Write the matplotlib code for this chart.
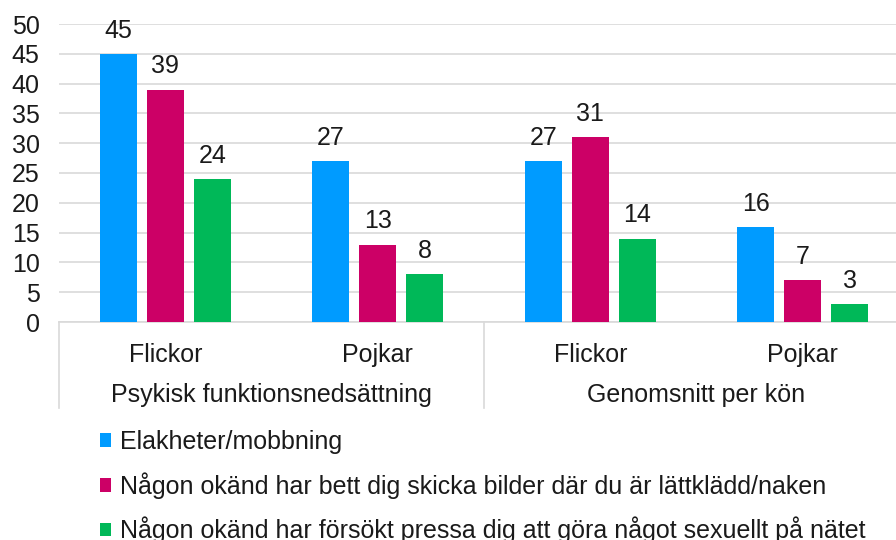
import matplotlib
matplotlib.use('Agg')
import matplotlib.pyplot as plt
from matplotlib.patches import Patch
import numpy as np

plt.rcParams['font.family'] = ['Liberation Sans', 'DejaVu Sans']

# data
categories = ['Flickor', 'Pojkar', 'Flickor', 'Pojkar']
groups = ['Psykisk funktionsnedsättning', 'Genomsnitt per kön']
series_names = ['Elakheter/mobbning',
                'Någon okänd har bett dig skicka bilder där du är lättklädd/naken',
                'Någon okänd har försökt pressa dig att göra något sexuellt på nätet']
mobbning = [45, 27, 27, 16]
bilder = [39, 13, 31, 7]
pressa = [24, 8, 14, 3]
colors = ['#009BFF', '#CC0066', '#00B858']
yticks = [0, 5, 10, 15, 20, 25, 30, 35, 40, 45, 50]

fig = plt.figure(figsize=(8.96, 5.4), dpi=100)
# plot area runs a bit past the right edge (cropped, as in the original)
ax = fig.add_axes([59 / 896, 1 - 322 / 540, 850 / 896, 298 / 540])

x = np.arange(len(categories))
step = 0.221
width = 0.174
for i, (vals, col) in enumerate(zip([mobbning, bilder, pressa], colors)):
    xs = x + (i - 1) * step
    ax.bar(xs, vals, width, color=col, zorder=3)
    for xv, v in zip(xs, vals):
        ax.annotate(str(v), (xv, v), xytext=(0, 8), textcoords='offset points',
                    ha='center', va='bottom', fontsize=18, color='#1a1a1a')

ax.set_xlim(-0.5, 3.5)
ax.set_ylim(0, 50)
ax.set_yticks(yticks)
ax.tick_params(axis='y', length=0, labelsize=18, pad=14, colors='#1a1a1a')
ax.set_xticks([])
ax.grid(axis='y', color='#D9D9D9', linewidth=1.2, zorder=0)
for s in ['left', 'right', 'top']:
    ax.spines[s].set_visible(False)
ax.spines['bottom'].set_color('#D9D9D9')
ax.spines['bottom'].set_linewidth(1.2)

# category labels and group separators
tr = ax.get_xaxis_transform()
for xv, lab in zip(x, categories):
    ax.text(xv, -0.112, lab, transform=tr, ha='center', va='center', fontsize=18, color='#1a1a1a')
for gi, g in enumerate(groups):
    ax.text(gi * 2 + 0.5, -0.245, g, transform=tr, ha='center', va='center', fontsize=18, color='#1a1a1a')
for sx in [-0.5, 1.5, 3.5]:
    ax.plot([sx, sx], [0, -0.289], transform=tr, color='#D9D9D9', linewidth=1.2, clip_on=False)

handles = [Patch(facecolor=c, edgecolor='none') for c in colors]
fig.legend(handles, series_names, loc='upper left', bbox_to_anchor=(100 / 896, 1 - 430 / 540),
           frameon=False, fontsize=18, handlelength=0.45, handleheight=0.45,
           handletextpad=0.35, labelspacing=0.72, borderpad=0, borderaxespad=0,
           labelcolor='#1a1a1a')

fig.savefig('out.png', dpi=100)
